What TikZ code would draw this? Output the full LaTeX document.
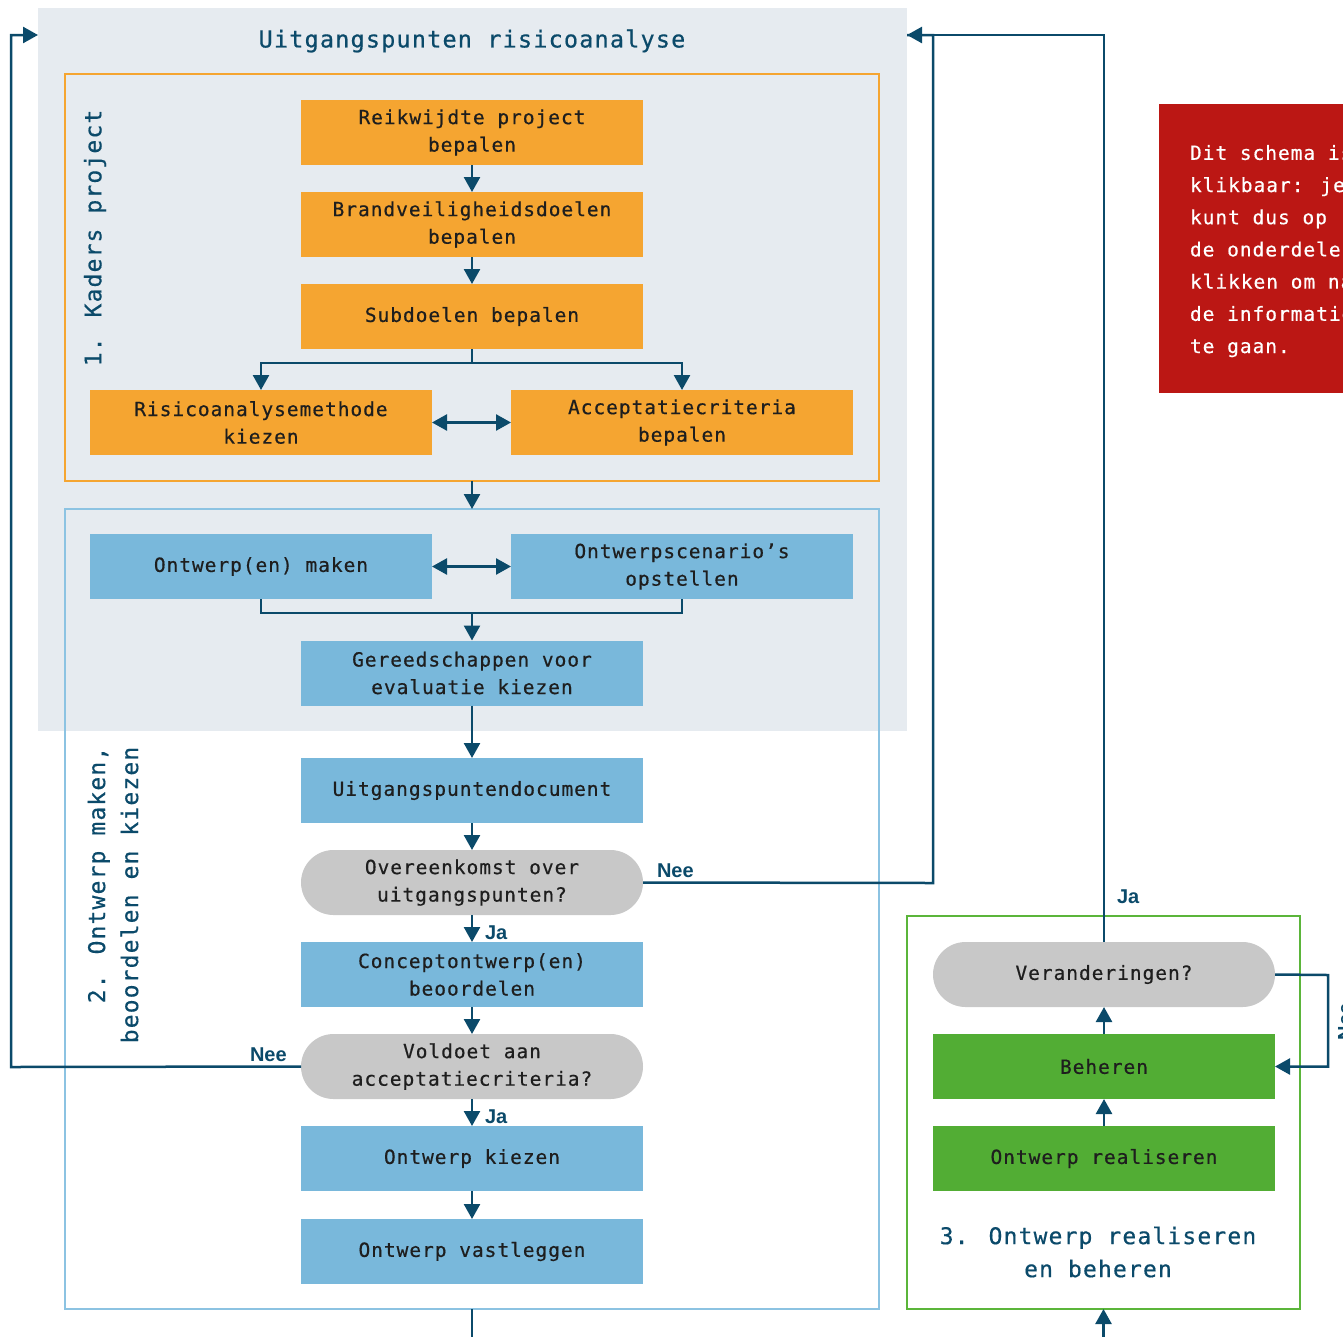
\documentclass[tikz,border=0pt]{standalone}
\usepackage{fontspec}
\usetikzlibrary{arrows.meta}
\newfontfamily\monof[LetterSpace=5,FakeBold=0.5]{DejaVu Sans Mono}
\newfontfamily\labf{Liberation Sans}
\definecolor{panelgray}{HTML}{E6EBF0}
\definecolor{orangefill}{HTML}{F5A531}
\definecolor{bluefill}{HTML}{79B8DB}
\definecolor{blueframe}{HTML}{8CC3E2}
\definecolor{grayfill}{HTML}{C8C8C8}
\definecolor{greenfill}{HTML}{52AD34}
\definecolor{greenframe}{HTML}{5BB53A}
\definecolor{redfill}{HTML}{BB1714}
\definecolor{navy}{HTML}{0B4A6A}
\definecolor{boxtext}{HTML}{1E1E1E}

\begin{document}
\begin{tikzpicture}[x=1pt,y=-1pt,
  every node/.style={inner sep=0pt, outer sep=0pt},
  box/.style={minimum width=342pt, minimum height=65pt, align=center,
    text=boxtext, font=\monof\fontsize{19.5}{27.5}\selectfont},
  orangebox/.style={box, fill=orangefill},
  bluebox/.style={box, fill=bluefill},
  greenbox/.style={box, fill=greenfill},
  question/.style={box, fill=grayfill, rounded corners=32.5pt},
  frame/.style={line width=2pt, minimum width=814pt},
  link/.style={draw=navy, line width=2.5pt},
  conn/.style={link, -{Triangle[width=16pt,length=15pt]}},
  bothway/.style={link, {Triangle[width=16pt,length=15pt]}-{Triangle[width=16pt,length=15pt]}},
  answer/.style={text=navy, font=\labf\bfseries\fontsize{20}{24}\selectfont},
  section/.style={text=navy, font=\monof\fontsize{23}{33}\selectfont},
]
\useasboundingbox (0,0) rectangle (1343,1336);

% background panel and group frames
\node[fill=panelgray, minimum width=869pt, minimum height=723pt] (panel) at (472.5,369.5) {};
\node[frame, draw=orangefill, minimum height=407pt] (kader) at (472,277.5) {};
\node[frame, draw=blueframe, minimum height=800pt] (ontwframe) at (472,909) {};
\node[line width=2pt, draw=greenframe, minimum width=393pt, minimum height=393pt] (realframe) at (1103.5,1112.5) {};

% info box
\node[fill=redfill, minimum width=200pt, minimum height=289pt, anchor=north west] (info) at (1159,104) {};
\node[anchor=north west, align=left, text=white, font=\monof\fontsize{19.5}{32.2}\selectfont] (infotext) at (1190,145)
  {Dit schema is\\klikbaar: je\\kunt dus op\\de onderdelen\\klikken om naar\\de informatie\\te gaan.};

% titles
\node[text=navy, font=\monof\fontsize{23.5}{30}\selectfont] (title) at (472,41) {Uitgangspunten risicoanalyse};
\node[section, rotate=90] (sec1) at (95,238) {1. Kaders project};
\node[section, rotate=90, align=right] (sec2) at (113,895) {2. Ontwerp maken,\\beoordelen en kiezen};
\node[section, align=center] (sec3) at (1098,1252) {3. Ontwerp realiseren\\en beheren};

% phase 1
\node[orangebox] (reik) at (472,132.5) {Reikwijdte project\\bepalen};
\node[orangebox] (brand) at (472,224.5) {Brandveiligheidsdoelen\\bepalen};
\node[orangebox] (sub) at (472,316.5) {Subdoelen bepalen};
\node[orangebox] (risico) at (261,422.5) {Risicoanalysemethode\\kiezen};
\node[orangebox] (accept) at (682,422.5) {Acceptatiecriteria\\bepalen};

% phase 2
\node[bluebox] (maken) at (261,566.5) {Ontwerp(en) maken};
\node[bluebox] (scen) at (682,566.5) {Ontwerpscenario’s\\opstellen};
\node[bluebox] (gereed) at (472,673) {Gereedschappen voor\\evaluatie kiezen};
\node[bluebox] (udoc) at (472,790.5) {Uitgangspuntendocument};
\node[question] (over) at (472,882.5) {Overeenkomst over\\uitgangspunten?};
\node[bluebox] (concept) at (472,974.5) {Conceptontwerp(en)\\beoordelen};
\node[question] (voldoet) at (472,1066.5) {Voldoet aan\\acceptatiecriteria?};
\node[bluebox] (kiezen) at (472,1158.5) {Ontwerp kiezen};
\node[bluebox] (vast) at (472,1251.5) {Ontwerp vastleggen};

% phase 3
\node[question] (veran) at (1104,974.5) {Veranderingen?};
\node[greenbox] (beheren) at (1104,1066.5) {Beheren};
\node[greenbox] (realis) at (1104,1158.5) {Ontwerp realiseren};

% connector corners
\coordinate (split) at (472,363);
\coordinate (merge) at (472,613);
\coordinate (pinR) at (907,35);
\coordinate (pinL) at (38,35);
\coordinate (neeR) at (933,883);
\coordinate (neeL) at (11,1067);
\coordinate (loopR) at (1328,975);
\coordinate (bottom) at (472,1337.8);

% phase 1 flow
\draw[conn] (reik) -- (brand);
\draw[conn] (brand) -- (sub);
\draw[link] (sub.south) -- (split);
\draw[conn] (split) -| (risico.north);
\draw[conn] (split) -| (accept.north);
\draw[bothway] (risico) -- (accept);
\draw[conn] (kader.south) -- (ontwframe.north);

% phase 2 flow
\draw[bothway] (maken) -- (scen);
\draw[link] (maken.south) |- (merge) -| (scen.south);
\draw[conn] (merge) -- (gereed.north);
\draw[conn] (gereed) -- (udoc);
\draw[conn] (udoc) -- (over);
\draw[conn] (over) -- (concept);
\draw[conn] (concept) -- (voldoet);
\draw[conn] (voldoet) -- (kiezen);
\draw[conn] (kiezen) -- (vast);

% feedback loops
\draw[link] (over.east) -- (neeR) |- (pinR);
\draw[conn] (veran.north) |- (pinR);
\draw[conn] (voldoet.west) -- (neeL) |- (pinL);
\draw[conn] (ontwframe.south) -- (bottom) -| (realframe.south);

% phase 3 flow
\draw[conn] (realis) -- (beheren);
\draw[conn] (beheren) -- (veran);
\draw[conn] (veran.east) -- (loopR) |- (beheren.east);

% answers
\node[answer, anchor=base west] (ja1) at (485,939) {Ja};
\node[answer, anchor=base west] (ja2) at (485,1123) {Ja};
\node[answer, anchor=base west] (nee1) at (657,877) {Nee};
\node[answer, anchor=base west] (nee2) at (250,1061) {Nee};
\node[answer, anchor=base west] (ja3) at (1117,903) {Ja};
\node[answer, rotate=90, anchor=north] (nee3) at (1338,1022) {Nee};
\end{tikzpicture}
\end{document}
